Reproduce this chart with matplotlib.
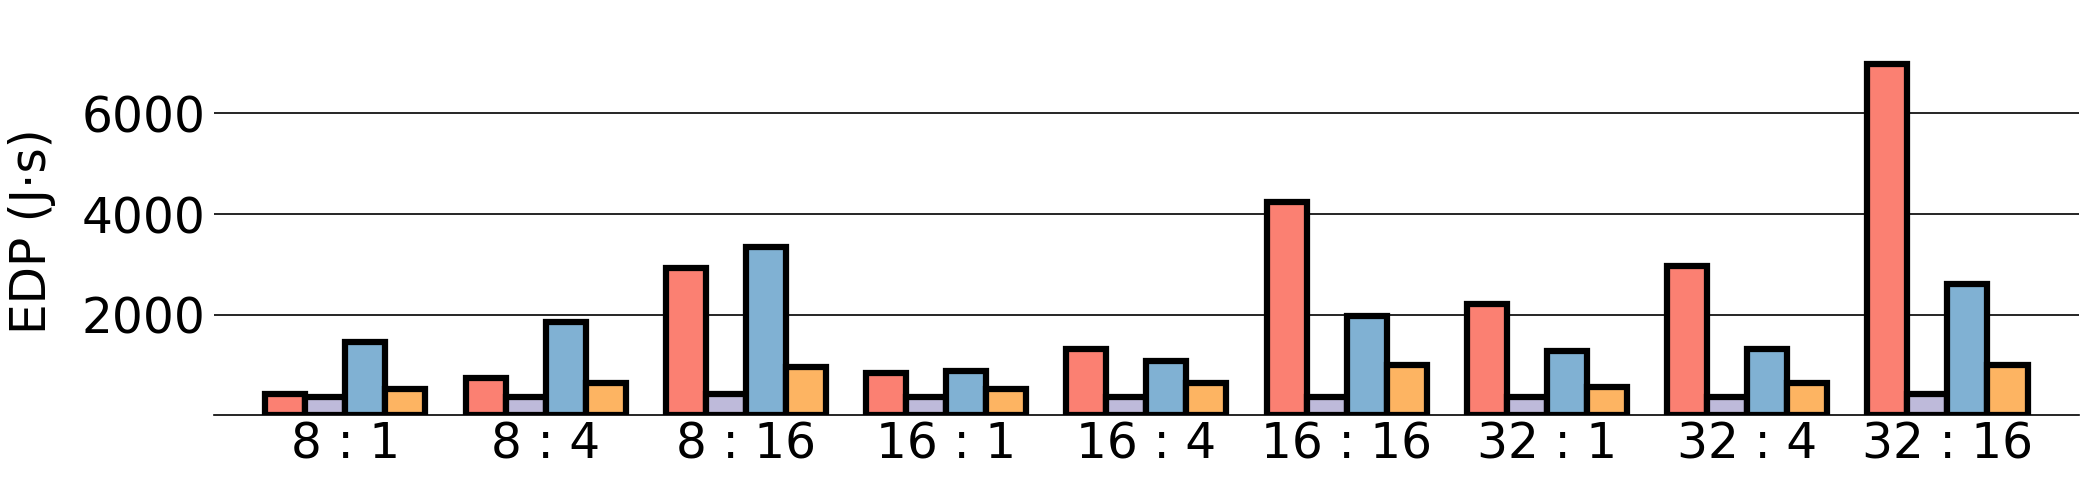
import numpy as np
import matplotlib.pyplot as plt

configs = ["8 : 1", "8 : 4", "8 : 16", "16 : 1", "16 : 4", "16 : 16",
           "32 : 1", "32 : 4", "32 : 16"]

# EDP per scheme
edp_red = [414, 747, 2922, 832, 1324, 4230, 2215, 2971, 6977]
edp_purple = [356, 356, 428, 356, 356, 364, 356, 356, 428]
edp_blue = [1459, 1857, 3350, 882, 1085, 1977, 1274, 1324, 2619]
edp_orange = [528, 647, 951, 528, 647, 1005, 563, 647, 1005]

series = [edp_red, edp_purple, edp_blue, edp_orange]
colors = ["#FB8072", "#BEBADA", "#80B1D3", "#FDB462"]

fig = plt.figure(figsize=(21, 4.95), dpi=100)
ax = fig.add_axes([0.102, 0.161, 0.8878, 0.745])

x = np.arange(len(configs))
w = 0.2
for i, (vals, c) in enumerate(zip(series, colors)):
    ax.bar(x + (i - 1.5) * w, vals, w, color=c, edgecolor="black",
           linewidth=4.5, zorder=3)

ax.set_xlim(-0.655, len(configs) - 1 + 0.655)
ax.set_ylim(0, 7330)
ax.set_yticks([2000, 4000, 6000])
ax.set_xticks(x)
ax.set_xticklabels(configs)
ax.grid(axis="y", color="black", linewidth=1.2, zorder=0)
ax.set_axisbelow(True)

for s in ["top", "right", "left"]:
    ax.spines[s].set_visible(False)
ax.spines["bottom"].set_linewidth(1.2)

ax.tick_params(axis="both", length=0, labelsize=35)
ax.tick_params(axis="y", pad=6.5)
ax.tick_params(axis="x", pad=4)
ax.set_ylabel("EDP (J·s)", fontsize=35, labelpad=18)

fig.savefig("out.png", dpi=100)
